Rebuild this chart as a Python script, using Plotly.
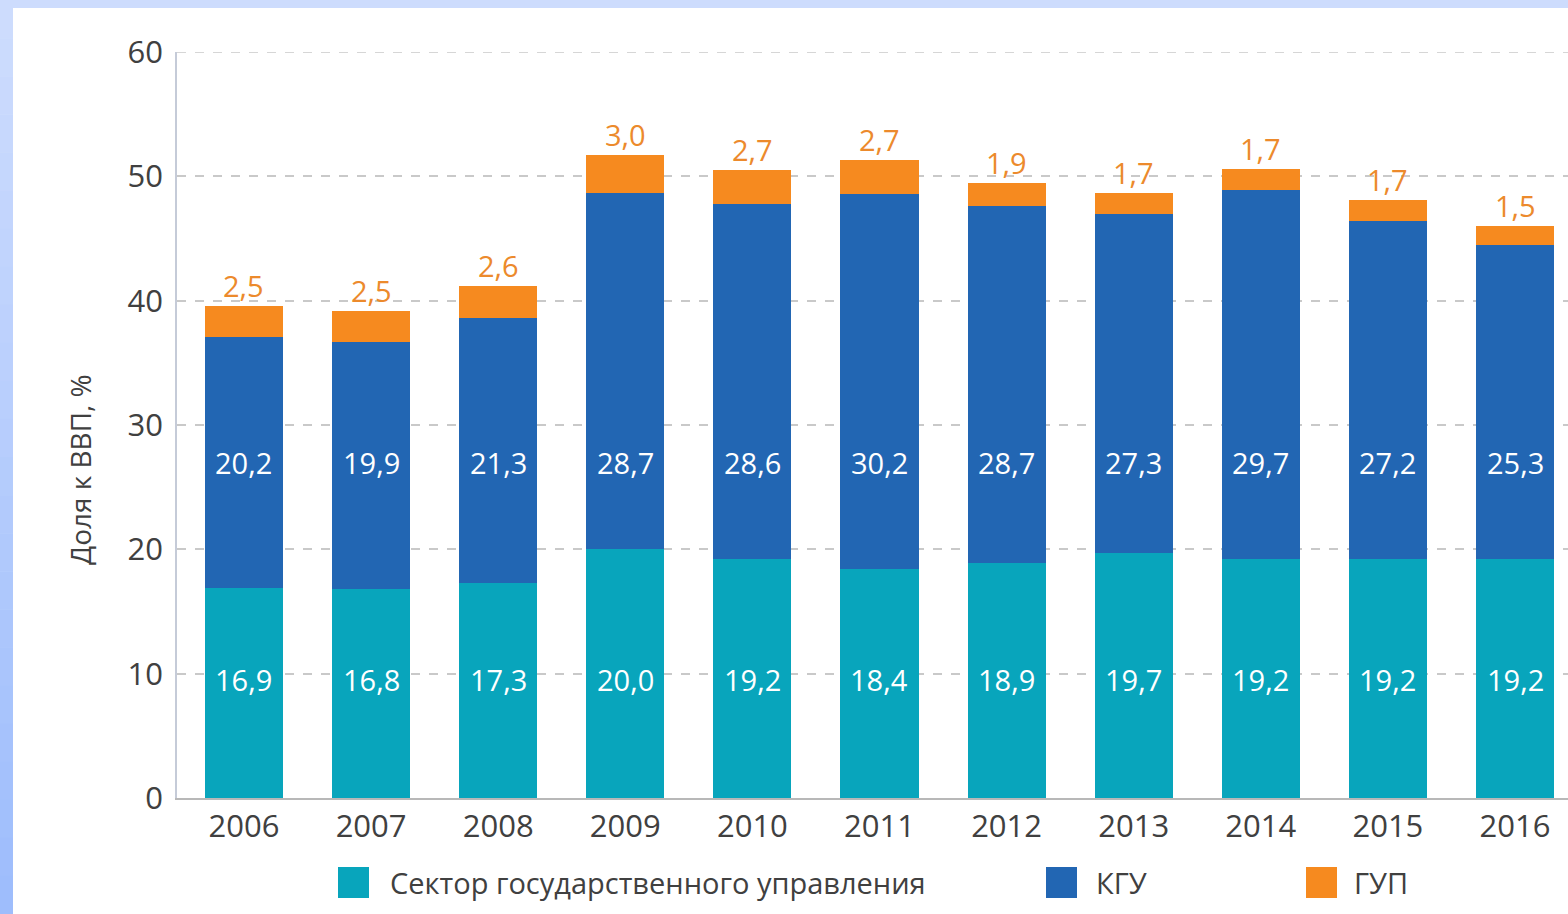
import plotly.graph_objects as go

# ---- data ----
years = ["2006", "2007", "2008", "2009", "2010", "2011", "2012", "2013", "2014", "2015", "2016"]
sector_gov = [16.9, 16.8, 17.3, 20.0, 19.2, 18.4, 18.9, 19.7, 19.2, 19.2, 19.2]
kgu = [20.2, 19.9, 21.3, 28.7, 28.6, 30.2, 28.7, 27.3, 29.7, 27.2, 25.3]
gup = [2.5, 2.5, 2.6, 3.0, 2.7, 2.7, 1.9, 1.7, 1.7, 1.7, 1.5]
series_names = ["Сектор государственного управления", "КГУ", "ГУП"]
y_ticks = [0, 10, 20, 30, 40, 50, 60]
y_title = "Доля к ВВП, %"

# ---- style / layout ----
W, H = 1568, 914
ML, MR, MT, MB = 177, 0, 52, 116
PW, PH = W - ML - MR, H - MT - MB
FONT = "Open Sans"
C_TEAL = "#08a5bc"
C_BLUE = "#2266b3"
C_ORANGE = "#f68a1f"
C_ORANGE_TXT = "#ec8a2c"
C_TEXT = "#404040"
C_GRID = "#c9c9c9"


def fmt(v):
    return f"{v:.1f}".replace(".", ",")


def px_x(p):  # pixel -> paper x
    return (p - ML) / PW


def px_y(p):  # pixel -> paper y
    return (H - MB - p) / PH


fig = go.Figure()
colors = [C_TEAL, C_BLUE, C_ORANGE]
for name, vals, col in zip(series_names, [sector_gov, kgu, gup], colors):
    fig.add_trace(go.Bar(
        x=years, y=vals, name=name, marker=dict(color=col, line=dict(width=0)),
        width=0.615, showlegend=False, hoverinfo="x+y+name",
    ))

annotations = []
# inside labels sit at fixed heights, orange labels above the stack
for i, yr in enumerate(years):
    annotations.append(dict(x=i, y=9.5, xref="x", yref="y", text=fmt(sector_gov[i]),
                            showarrow=False, font=dict(family=FONT, size=29, color="white")))
    annotations.append(dict(x=i, y=27.0, xref="x", yref="y", text=fmt(kgu[i]),
                            showarrow=False, font=dict(family=FONT, size=29, color="white")))
    total = sector_gov[i] + kgu[i] + gup[i]
    annotations.append(dict(x=i, y=total, xref="x", yref="y", text=fmt(gup[i]),
                            showarrow=False, yanchor="bottom", yshift=-1,
                            font=dict(family=FONT, size=29, color=C_ORANGE_TXT)))

# y-axis title
annotations.append(dict(x=px_x(80), y=px_y(470), xref="paper", yref="paper", text=y_title,
                        textangle=-90, showarrow=False, xanchor="center", yanchor="middle",
                        font=dict(family=FONT, size=28, color=C_TEXT)))

shapes = []
# top dashed gridline (at the edge of the range)
shapes.append(dict(type="line", xref="paper", yref="y", x0=0, x1=1, y0=60, y1=60,
                   line=dict(color=C_GRID, width=1.5, dash="dash"), layer="below"))
# slide background strips (top light, left gradient)
shapes.append(dict(type="rect", xref="paper", yref="paper", x0=px_x(0), x1=px_x(W),
                   y0=px_y(8), y1=px_y(0), fillcolor="#cddcfd", line=dict(width=0), layer="below"))
n_bands = 24
top_rgb = (205, 220, 253)
bot_rgb = (158, 189, 252)
for k in range(n_bands):
    t = k / (n_bands - 1)
    rgb = tuple(round(a + (b - a) * t) for a, b in zip(top_rgb, bot_rgb))
    y0p = H * k / n_bands
    y1p = H * (k + 1) / n_bands
    shapes.append(dict(type="rect", xref="paper", yref="paper", x0=px_x(0), x1=px_x(13),
                       y0=px_y(y1p + 0.5), y1=px_y(y0p), fillcolor="rgb(%d,%d,%d)" % rgb,
                       line=dict(width=0), layer="below"))

# legend (manual)
legend_items = [(338, 388), (1046, 1094), (1306, 1352)]
for (sx, tx), name, col in zip(legend_items, series_names, colors):
    shapes.append(dict(type="rect", xref="paper", yref="paper", x0=px_x(sx), x1=px_x(sx + 31),
                       y0=px_y(898), y1=px_y(867), fillcolor=col, line=dict(width=0)))
    annotations.append(dict(x=px_x(tx), y=px_y(882), xref="paper", yref="paper", text=name,
                            xanchor="left", yanchor="middle", showarrow=False,
                            font=dict(family=FONT, size=29, color=C_TEXT)))

fig.update_layout(
    width=W, height=H, barmode="stack", bargap=0.385,
    margin=dict(l=ML, r=MR, t=MT, b=MB, pad=0),
    paper_bgcolor="white", plot_bgcolor="white",
    font=dict(family=FONT, color=C_TEXT),
    annotations=annotations, shapes=shapes, showlegend=False,
    xaxis=dict(type="category", range=[-0.527, 10.417], showgrid=False,
               showline=True, linecolor="#b8b8b8", linewidth=1.5, ticks="",
               tickfont=dict(family=FONT, size=31, color=C_TEXT)),
    yaxis=dict(range=[0, 60], tickvals=y_ticks, showgrid=True, gridcolor=C_GRID,
               griddash="dash", gridwidth=1.5, zeroline=False,
               showline=True, linecolor="#c5cbd8", linewidth=1.5, ticks="",
               ticklabelstandoff=6,
               tickfont=dict(family=FONT, size=31, color=C_TEXT)),
)

fig.write_html("out.html", config={"displayModeBar": False},
               post_script="document.body.style.margin='0';document.body.style.overflow='hidden';")
